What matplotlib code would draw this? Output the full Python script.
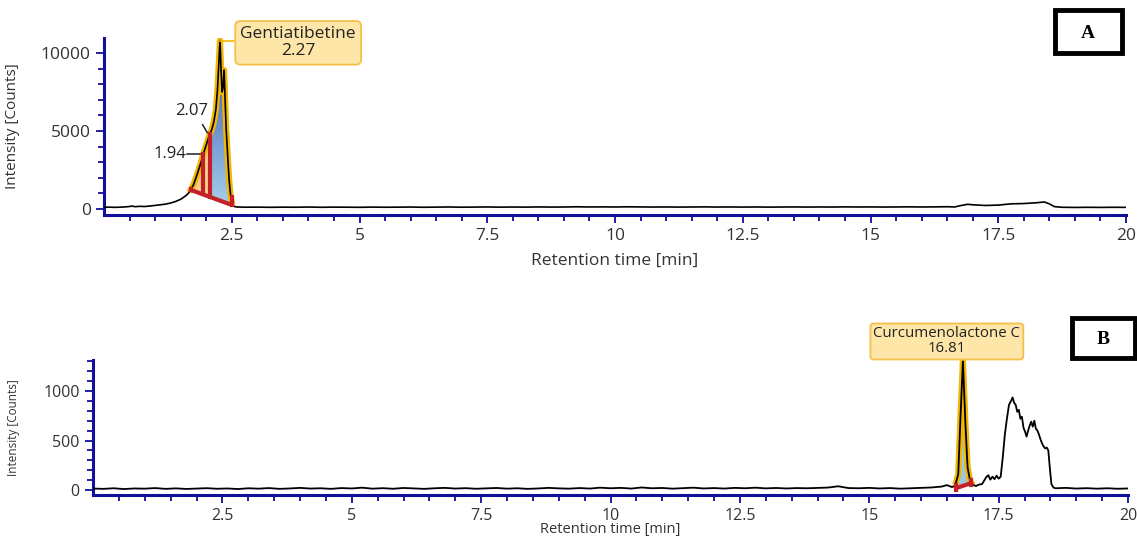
import numpy as np
import matplotlib
matplotlib.use("Agg")
import matplotlib.pyplot as plt
from matplotlib.patches import Rectangle
from matplotlib.colors import LinearSegmentedColormap

plt.rcParams['font.family'] = ['Open Sans', 'DejaVu Sans']

# ---- Panel A: Gentiatibetine chromatogram ----
tA = [0.0, 0.1, 0.2, 0.3, 0.4, 0.5, 0.55, 0.6, 0.7, 0.8, 0.9, 1.0, 1.1, 1.2, 1.3, 1.4,
      1.5, 1.6, 1.65, 1.7, 1.75, 1.8, 1.85, 1.9, 1.94, 1.98, 2.02, 2.07, 2.11, 2.15,
      2.19, 2.22, 2.25, 2.27, 2.29, 2.31, 2.33, 2.35, 2.37, 2.39, 2.42, 2.45, 2.48,
      2.51, 2.55, 2.6,
      2.75, 3.0, 3.25, 3.5, 3.75, 4.0, 4.25, 4.5, 4.75, 5.0,
      5.25, 5.5, 5.75, 6.0, 6.25, 6.5, 6.75, 7.0, 7.25, 7.5,
      7.75, 8.0, 8.25, 8.5, 8.75, 9.0, 9.25, 9.5, 9.75, 10.0,
      10.25, 10.5, 10.75, 11.0, 11.25, 11.5, 11.75, 12.0, 12.25, 12.5,
      12.75, 13.0, 13.25, 13.5, 13.75, 14.0, 14.25, 14.5, 14.75, 15.0,
      15.25, 15.5, 15.75, 16.0, 16.25, 16.5, 16.65, 16.75, 16.9, 17.0, 17.25, 17.5,
      17.75, 18.0, 18.25, 18.4, 18.5, 18.6, 18.75, 19.0, 19.25, 19.5, 19.75, 20.0]
iA = [110, 120, 105, 115, 130, 160, 190, 150, 170, 160, 190, 230, 270, 310, 380, 480,
      620, 850, 1000, 1250, 1550, 2000, 2500, 3000, 3500, 3900, 4300, 4800, 5100, 5600,
      6400, 7600, 9500, 10800, 9000, 7500, 7800, 8900, 7000, 5200, 3400, 1800, 800,
      300, 160, 130,
      115, 120, 108, 118, 112, 125, 110, 120, 115, 108,
      122, 112, 118, 125, 110, 120, 128, 115, 122, 130,
      118, 126, 120, 132, 122, 128, 140, 130, 135, 128,
      140, 132, 125, 130, 122, 128, 135, 125, 130, 122,
      128, 120, 126, 132, 124, 130, 125, 135, 128, 132,
      125, 130, 138, 128, 135, 145, 130, 210, 300, 270, 225, 250,
      330, 350, 400, 450, 330, 150, 110, 100, 108, 102, 110, 105]

peakA_start, peakA_split1, peakA_split2, peakA_end = 1.7, 1.94, 2.07, 2.5
peakA_base = [1220, 260]

# ---- Panel B: Curcumenolactone C chromatogram ----
tB = [0.0, 0.2, 0.4, 0.6, 0.8, 1.0, 1.2, 1.4, 1.6, 1.8,
      2.0, 2.2, 2.4, 2.6, 2.8, 3.0, 3.2, 3.4, 3.6, 3.8,
      4.0, 4.2, 4.4, 4.6, 4.8, 5.0, 5.2, 5.4, 5.6, 5.8,
      6.0, 6.2, 6.4, 6.6, 6.8, 7.0, 7.2, 7.4, 7.6, 7.8,
      8.0, 8.2, 8.4, 8.6, 8.8, 9.0, 9.2, 9.4, 9.6, 9.8,
      10.0, 10.2, 10.4, 10.6, 10.8, 11.0, 11.2, 11.4, 11.6, 11.8,
      12.0, 12.2, 12.4, 12.6, 12.8, 13.0, 13.2, 13.4, 13.6, 13.8,
      14.0, 14.2, 14.4, 14.6, 14.8, 15.0, 15.2, 15.4, 15.6, 15.8,
      16.0, 16.2, 16.4, 16.5, 16.6, 16.66, 16.72, 16.76, 16.81, 16.86, 16.9, 16.95,
      17.0, 17.06, 17.12, 17.18, 17.22, 17.26, 17.3, 17.34, 17.38, 17.42, 17.46, 17.5,
      17.54, 17.58, 17.62, 17.66, 17.7, 17.74, 17.77, 17.8, 17.83, 17.86, 17.89, 17.92,
      17.95, 17.98, 18.01, 18.04, 18.07, 18.1, 18.13, 18.16, 18.19, 18.22, 18.25, 18.28,
      18.31, 18.34, 18.37, 18.4, 18.43, 18.46, 18.49, 18.52, 18.56, 18.6, 18.8, 19.0,
      19.2, 19.4, 19.6, 19.8, 20.0]
iB = [15, 12, 18, 10, 16, 14, 20, 12, 17, 11,
      15, 19, 13, 16, 10, 18, 14, 20, 12, 16,
      22, 15, 18, 12, 20, 16, 24, 14, 19, 13,
      21, 16, 12, 18, 22, 15, 19, 13, 17, 21,
      14, 18, 12, 16, 22, 17, 14, 20, 15, 24,
      18, 22, 15, 26, 18, 21, 14, 19, 24, 16,
      20, 15, 22, 18, 24, 17, 21, 16, 20, 18,
      22, 25, 38, 20, 18, 22, 16, 20, 14, 18,
      22, 26, 35, 50, 30, 45, 160, 700, 1300, 650, 230, 90,
      55, 40, 55, 60, 95, 130, 150, 105, 135, 110, 145, 115,
      135, 330, 560, 720, 860, 900, 935, 880, 860, 790, 810, 720,
      740, 630, 590, 540, 600, 650, 690, 640, 700, 620, 600, 560,
      510, 470, 440, 420, 430, 400, 220, 60, 25, 18, 22, 15,
      19, 14, 18, 13, 16]

peakB_start, peakB_end = 16.68, 16.97
peakB_base = [20, 70]

navy = '#10109a'
gold = '#f2b705'
red = '#c42027'

fig = plt.figure(figsize=(11.37, 5.36), dpi=100)
axA = fig.add_axes([104 / 1137, 1 - 215 / 536, 1022 / 1137, 177 / 536])
axB = fig.add_axes([93 / 1137, 1 - 495 / 536, 1035 / 1137, 135 / 536])


def style_axis(ax, ymaj, ymin_step, ylim, lab_size, ylab_size, xlab_size, xpad):
    for s in ['top', 'right']:
        ax.spines[s].set_visible(False)
    for s in ['left', 'bottom']:
        ax.spines[s].set_color(navy)
        ax.spines[s].set_linewidth(2.2)
    ax.set_xlim(0, 20)
    ax.set_ylim(*ylim)
    ax.set_xticks([2.5, 5, 7.5, 10, 12.5, 15, 17.5, 20])
    ax.set_xticklabels(['2.5', '5', '7.5', '10', '12.5', '15', '17.5', '20'])
    ax.set_xticks(np.arange(0.5, 20, 0.5), minor=True)
    ax.set_yticks(ymaj)
    ax.set_yticks(np.arange(0, ylim[1], ymin_step), minor=True)
    ax.tick_params(which='both', direction='out', color=navy, width=1.3,
                   labelsize=lab_size, labelcolor='#333333')
    ax.tick_params(which='major', length=6)
    ax.tick_params(which='minor', length=4)
    ax.set_xlabel('Retention time [min]', fontsize=xlab_size, color='#333333', labelpad=xpad)
    ax.set_ylabel('Intensity [Counts]', fontsize=ylab_size, color='#333333')


style_axis(axA, [0, 5000, 10000], 1000, (-385, 10960), 12.5, 11, 12.5, 6)
style_axis(axB, [0, 500, 1000], 100, (-50, 1313), 11.5, 8.5, 10.5, 0)
axA.yaxis.set_label_coords(-0.082, 0.5)
axB.yaxis.set_label_coords(-0.071, 0.5)
axB.xaxis.set_label_coords(0.5, -0.2)

tA_arr = np.array(tA)
iA_arr = np.array(iA)
tB_arr = np.array(tB)
iB_arr = np.array(iB)


# ---- peak integration helpers ----
def region(t, i, a, b):
    m = (t >= a) & (t <= b)
    ts = np.concatenate([[a], t[m], [b]])
    vs = np.concatenate([[np.interp(a, t, i)], i[m], [np.interp(b, t, i)]])
    return ts, vs


base_t = [peakA_start, peakA_end]
ts_o, vs_o = region(tA_arr, iA_arr, peakA_start, peakA_split2)
axA.fill_between(ts_o, np.interp(ts_o, base_t, peakA_base), vs_o,
                 color='#f9cf8f', lw=0, zorder=2)
ts_b, vs_b = region(tA_arr, iA_arr, peakA_split2, peakA_end)
poly = axA.fill_between(ts_b, np.interp(ts_b, base_t, peakA_base), vs_b,
                        color='none', lw=0, zorder=2)
blue_cmap = LinearSegmentedColormap.from_list('bl', ['#a9d1ea', '#4f6fc0'])
grad = np.linspace(0, 1, 100).reshape(-1, 1)
im = axA.imshow(grad, extent=[peakA_split2, peakA_end, 0, 8000], origin='lower',
                aspect='auto', cmap=blue_cmap, zorder=2)
im.set_clip_path(poly.get_paths()[0], transform=axA.transData)
axA.set_xlim(0, 20)
axA.set_ylim(-385, 10960)

ts_all, vs_all = region(tA_arr, iA_arr, peakA_start, peakA_end)
axA.plot(ts_all, vs_all, color=gold, lw=4.5, zorder=3, solid_joinstyle='round')
axA.plot(tA, iA, color='black', lw=1.2, zorder=4)
axA.plot(base_t, peakA_base, color=red, lw=3, zorder=5, solid_capstyle='butt')
for tx in [peakA_start, peakA_split1, peakA_split2, peakA_end]:
    b = np.interp(tx, base_t, peakA_base)
    top = np.interp(tx, tA_arr, iA_arr) if tx != peakA_end else b + 500
    axA.plot([tx, tx], [b, top], color=red, lw=3, zorder=5)

axA.plot([1.63, 1.88], [3500, 3500], color='#222222', lw=1.1, zorder=6)
axA.text(1.62, 3500, '1.94', ha='right', va='center', fontsize=12, color='#222222')
axA.plot([1.93, 2.02], [5400, 4900], color='#222222', lw=1.1, zorder=6)
axA.text(1.72, 6250, '2.07', ha='center', va='center', fontsize=12, color='#222222')

axA.plot([2.27, 2.6], [10750, 10750], color=gold, lw=1.2, zorder=6, clip_on=False)
axA.text(3.8, 10650, 'Gentiatibetine\n2.27', ha='center', va='center', fontsize=12.5,
         color='#222222', linespacing=1.1, zorder=7, clip_on=False,
         bbox=dict(boxstyle='round,pad=0.3', fc='#fde6a8', ec='#f5c04a', lw=1.3))

# ---- Panel B peak integration ----
base_tB = [peakB_start, peakB_end]
ts_p, vs_p = region(tB_arr, iB_arr, peakB_start, peakB_end)
axB.fill_between(ts_p, np.interp(ts_p, base_tB, peakB_base), vs_p,
                 color='#9cc8e6', lw=0, zorder=2)
axB.plot(ts_p, vs_p, color=gold, lw=4.5, zorder=3)
axB.plot(tB, iB, color='black', lw=1.3, zorder=4)
axB.plot(base_tB, peakB_base, color=red, lw=3, zorder=5)
for tx, b in zip(base_tB, peakB_base):
    axB.plot([tx, tx], [b - 20, b + 30], color=red, lw=3, zorder=5)

axB.plot([16.81, 16.81], [1300, 1330], color=gold, lw=1.2, clip_on=False)
axB.text(16.5, 1500, 'Curcumenolactone C\n16.81', ha='center', va='center', fontsize=10.8,
         color='#222222', linespacing=1.0, zorder=7, clip_on=False,
         bbox=dict(boxstyle='round,pad=0.2', fc='#fde6a8', ec='#f5c04a', lw=1.3))

# ---- panel letters ----
fig.patches.append(Rectangle((1055 / 1137, 1 - 53 / 536), 67 / 1137, 43 / 536,
                             transform=fig.transFigure, fc='white', ec='black', lw=3.5))
fig.text(1088 / 1137, 1 - 33 / 536, 'A', ha='center', va='center', fontsize=14,
         fontweight='bold', family='Liberation Serif')
fig.patches.append(Rectangle((1072 / 1137, 1 - 358 / 536), 63 / 1137, 40 / 536,
                             transform=fig.transFigure, fc='white', ec='black', lw=3.5))
fig.text(1103 / 1137, 1 - 340 / 536, 'B', ha='center', va='center', fontsize=14,
         fontweight='bold', family='Liberation Serif')

fig.savefig('out.png', dpi=100)
